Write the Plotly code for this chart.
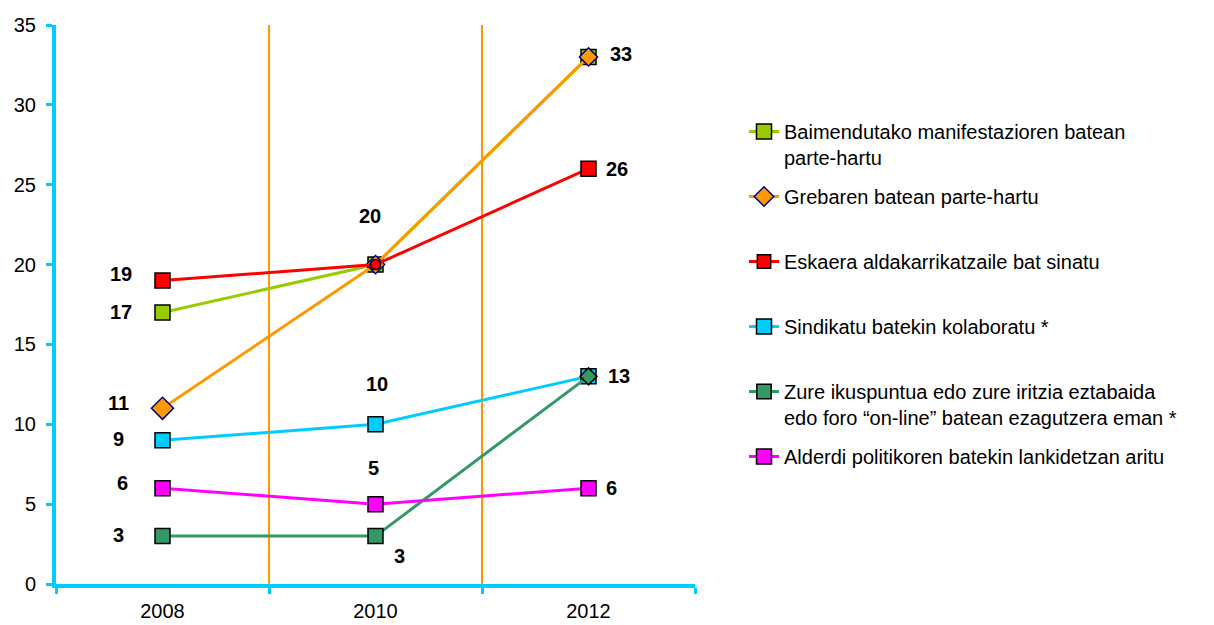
import plotly.graph_objects as go

years = ["2008", "2010", "2012"]
names = [
    "Baimendutako manifestazioren batean<br>parte-hartu",
    "Grebaren batean parte-hartu<br>&nbsp;",
    "Eskaera aldakarrikatzaile bat sinatu<br>&nbsp;",
    "Sindikatu batekin kolaboratu *<br>&nbsp;",
    "Zure ikuspuntua edo zure iritzia eztabaida<br>edo foro “on-line” batean ezagutzera eman *",
    "Alderdi politikoren batekin lankidetzan aritu<br>&nbsp;",
]
manifestazioa = [17, 20, 33]
greba = [11, 20, 33]
eskaera = [19, 20, 26]
sindikatua = [9, 10, 13]
online = [3, 3, 13]
alderdia = [6, 5, 6]

series = [manifestazioa, greba, eskaera, sindikatua, online, alderdia]
line_colors = ["#99CC00", "#FF9900", "#FF0000", "#00CCFF", "#339966", "#FF00FF"]
symbols = [
    ["square"] * 3,
    ["diamond"] * 3,
    ["square", "circle", "square"],
    ["square"] * 3,
    ["square", "square", "diamond"],
    ["square"] * 3,
]
sizes = [
    [15, 15, 15],
    [17, 14, 14],
    [15, 10, 15],
    [15, 15, 15],
    [15, 15, 13],
    [15, 15, 15],
]
border = ["#000000", "#000080", "#000000", "#000000", "#000000", "#000000"]

# label offsets (px) per series per point (None = no label)
label_shifts = [
    [(-42, 0), None, None],
    [(-44, 5), None, (32, 3)],
    [(-42, 7), (-6, 49), (28, 0)],
    [(-44, 1), (1, 40), (30, 0)],
    [(-44, 1), (24, -20), None],
    [(-40, 5), (-2, 36), (23, 0)],
]

fig = go.Figure()
for i, vals in enumerate(series):
    fig.add_trace(go.Scatter(
        x=years, y=vals, name=names[i], mode="lines+markers",
        legendgroup=f"g{i}",
        line=dict(color=line_colors[i], width=3),
        marker=dict(symbol=symbols[i], size=sizes[i], color=line_colors[i],
                    opacity=1, line=dict(color=border[i], width=1.5)),
    ))

annotations = []
for i, vals in enumerate(series):
    for j, v in enumerate(vals):
        s = label_shifts[i][j]
        if s is None:
            continue
        annotations.append(dict(
            x=j, y=v, xref="x", yref="y", text=f"<b>{v}</b>",
            showarrow=False, xshift=s[0], yshift=s[1],
            font=dict(family="Liberation Sans, Arial", size=20, color="#000000"),
        ))

fig.update_layout(
    width=1214, height=625,
    paper_bgcolor="white", plot_bgcolor="white",
    margin=dict(l=56, r=519, t=25, b=41, autoexpand=False),
    font=dict(family="Liberation Sans, Arial", size=20, color="#000000"),
    showlegend=True,
    legend=dict(
        xref="container", yref="container", x=744 / 1214, y=1 - 112 / 625,
        xanchor="left", yanchor="top", valign="top",
        tracegroupgap=10, font=dict(size=20), maxheight=600,
        bgcolor="rgba(0,0,0,0)",
    ),
    annotations=annotations,
)
fig.update_xaxes(
    type="category", categoryorder="array", categoryarray=years,
    range=[-0.5, 2.5], tickson="boundaries",
    showline=True, linecolor="#00CCFF", linewidth=4,
    ticks="outside", ticklen=6, tickwidth=3, tickcolor="#00CCFF",
    showgrid=True, gridcolor="#FF9900", gridwidth=1.5,
    tickfont=dict(size=20), ticklabelstandoff=6,
    zeroline=False, fixedrange=True,
)
fig.update_yaxes(
    range=[0, 35], dtick=5, tick0=0,
    showline=True, linecolor="#00CCFF", linewidth=4,
    ticks="outside", ticklen=6, tickwidth=3, tickcolor="#00CCFF",
    showgrid=False, zeroline=False,
    tickfont=dict(size=20), ticklabelstandoff=6,
)

fig.write_html("out.html", config={"displayModeBar": False},
               post_script="document.body.style.margin='0';")
